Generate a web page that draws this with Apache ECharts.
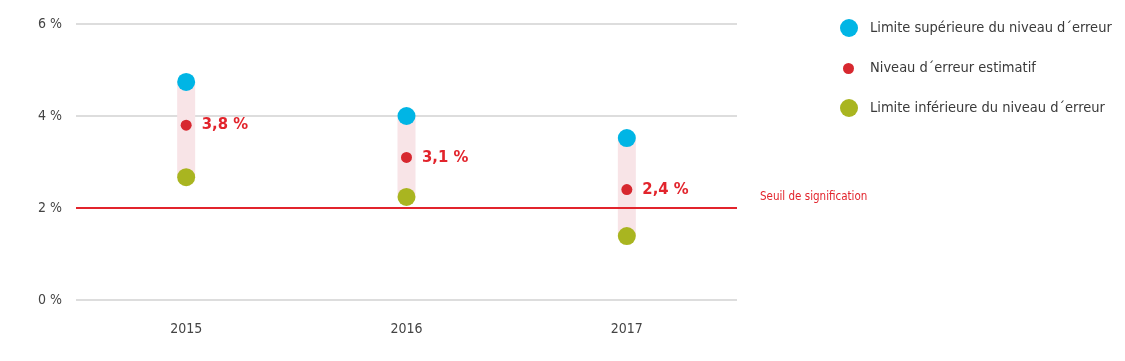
<!DOCTYPE html>
<html>
<head>
<meta charset="utf-8">
<script src="https://cdn.jsdelivr.net/npm/echarts@6/dist/echarts.min.js"></script>
<style>html,body{margin:0;padding:0;background:#fff;}#c{width:1125px;height:361px;}</style>
</head>
<body>
<div id="c"></div>
<script>
var categories = ['2015', '2016', '2017'];
var upperValues = [4.74, 4.0, 3.52];
var estimateValues = [3.8, 3.1, 2.4];
var lowerValues = [2.67, 2.24, 1.39];
var yTicks = [0, 2, 4, 6];
var thresholdValue = 2;
var seriesNames = ['Limite supérieure du niveau d´erreur', 'Niveau d´erreur estimatif', 'Limite inférieure du niveau d´erreur'];
var thresholdLabel = 'Seuil de signification';

var FONT = '"Liberation Sans Narrow", "DejaVu Sans Condensed", "Roboto", sans-serif';
var chart = echarts.init(document.getElementById('c'));

function legendFor(i, top, size, left) {
  return {
    data: [seriesNames[i]], orient: 'vertical', left: left, top: top,
    itemWidth: size, itemHeight: size, icon: 'circle', itemGap: 0,
    selectedMode: false,
    textStyle: { fontFamily: FONT, fontSize: 14.5, color: '#3a3a3a', padding: [0, 0, 0, 870 - left - size - 10] }
  };
}

chart.setOption({
  animation: false,
  grid: { left: 76, right: 388, top: 24, bottom: 61 },
  legend: [legendFor(0, 14, 18, 835), legendFor(1, 56, 11, 838), legendFor(2, 94, 18, 835)],
  xAxis: {
    type: 'category', data: categories, boundaryGap: true,
    axisLine: { show: false }, axisTick: { show: false },
    axisLabel: { fontFamily: FONT, fontSize: 14, color: '#444', margin: 22 }
  },
  yAxis: {
    type: 'value', min: 0, max: 6, interval: 2,
    axisLine: { show: false }, axisTick: { show: false },
    axisLabel: { fontFamily: FONT, fontSize: 14, color: '#444', margin: 14,
      formatter: function (v) { return yTicks.indexOf(v) >= 0 ? v + ' %' : ''; } },
    splitLine: { lineStyle: { color: '#d2d2d2', width: 1.5 } }
  },
  series: [
    {
      type: 'custom', name: 'range', silent: true, z: 1,
      data: categories.map(function (c, i) { return [i, lowerValues[i], upperValues[i]]; }),
      renderItem: function (params, api) {
        var p1 = api.coord([api.value(0), api.value(1)]);
        var p2 = api.coord([api.value(0), api.value(2)]);
        var w = 18;
        return { type: 'rect', shape: { x: p1[0] - w / 2, y: p2[1], width: w, height: p1[1] - p2[1] },
          style: { fill: '#f8e4e7' } };
      }
    },
    {
      type: 'line', name: 'threshold', data: [], z: 2,
      markLine: {
        silent: true, symbol: 'none',
        lineStyle: { color: '#e2242c', width: 2, type: 'solid' },
        label: { show: true, position: 'end', formatter: thresholdLabel, color: '#e2242c',
          fontFamily: FONT, fontSize: 11.5, distance: 23, offset: [0, -11] },
        data: [{ yAxis: thresholdValue }]
      }
    },
    {
      type: 'scatter', name: seriesNames[0], data: upperValues, symbolSize: 18, z: 3,
      itemStyle: { color: '#00b5e5', opacity: 1 }
    },
    {
      type: 'scatter', name: seriesNames[1], data: estimateValues, symbolSize: 11, z: 3,
      itemStyle: { color: '#d7282f', opacity: 1 },
      label: { show: true, position: 'right', distance: 10, color: '#e2242c', fontWeight: 'bold',
        fontFamily: FONT, fontSize: 16.5,
        formatter: function (p) { return p.value.toFixed(1).replace('.', ',') + ' %'; } }
    },
    {
      type: 'scatter', name: seriesNames[2], data: lowerValues, symbolSize: 18, z: 3,
      itemStyle: { color: '#a9b520', opacity: 1 }
    }
  ]
});
</script>
</body>
</html>
